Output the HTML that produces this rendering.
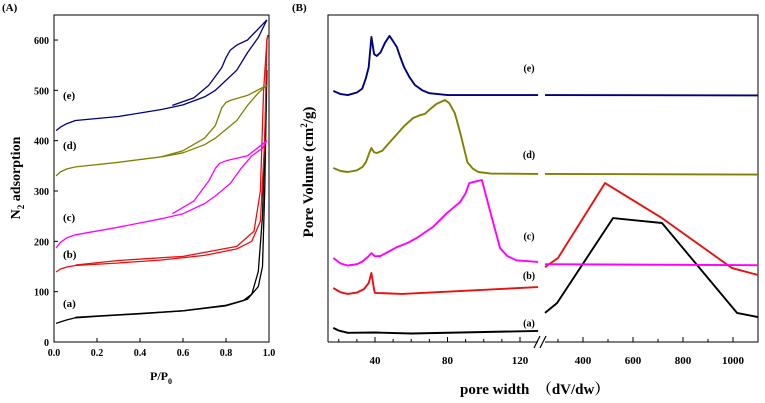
<!DOCTYPE html>
<html><head><meta charset="utf-8"><style>
body{margin:0;background:#fff;}
svg{display:block;font-family:"Liberation Serif",serif;font-weight:bold;}
</style></head><body>
<svg id="chart" width="765" height="403" viewBox="0 0 765 403" xmlns="http://www.w3.org/2000/svg">
<g id="gA"></g>
<g id="gB"></g>
</svg>
<script>
// ---------- Panel A data ----------
const aSeries = ['a','b','c','d','e'];
const aColors = ['#000000','#e81010','#ff00ff','#808000','#000080'];
const aAdsX = [
 [0.01,0.03,0.06,0.1,0.2,0.4,0.6,0.8,0.88,0.92,0.95,0.97,0.98,0.99],
 [0.01,0.03,0.06,0.1,0.3,0.5,0.7,0.85,0.92,0.96,0.98,0.99,0.995],
 [0.01,0.03,0.06,0.1,0.3,0.5,0.6,0.7,0.75,0.82,0.87,0.92,0.97,0.99],
 [0.01,0.03,0.06,0.1,0.3,0.5,0.6,0.7,0.75,0.85,0.9,0.95,0.99],
 [0.01,0.03,0.06,0.1,0.3,0.5,0.6,0.7,0.75,0.85,0.9,0.95,0.99]];
const aAdsY = [
 [37,40,44,48,51,56,62,72,82,95,140,250,400,540],
 [139,145,149,152,157,163,172,185,200,240,400,600,610],
 [187,198,207,213,228,245,255,275,290,315,345,370,385,400],
 [330,338,344,348,357,368,376,392,405,440,470,495,510],
 [420,427,434,440,448,462,471,487,500,540,575,605,640]];
const aDesX = [
 [0.99,0.985,0.98,0.97,0.95,0.9,0.8,0.6,0.3,0.1],
 [0.995,0.99,0.975,0.96,0.93,0.85,0.6,0.3,0.1],
 [0.99,0.9,0.8,0.77,0.75,0.72,0.65,0.55],
 [0.99,0.9,0.82,0.8,0.78,0.75,0.7,0.6,0.5],
 [0.99,0.9,0.85,0.82,0.8,0.78,0.72,0.65,0.55]];
const aDesY = [
 [540,420,300,150,110,85,73,62,54,49],
 [610,600,500,300,220,190,170,162,153],
 [400,370,360,355,345,320,280,255],
 [510,490,480,476,465,430,405,380,368],
 [640,600,590,580,565,545,510,485,470]];
const aYTicks = [0,100,200,300,400,500,600];
const aXTicks = [0.0,0.2,0.4,0.6,0.8,1.0];
const aLabelY = [77,175,248,391,491];

// ---------- Panel B data ----------
const bSeries = ['a','b','c','d','e'];
const bLeftX = [
 [17,20,25,40,60,130],
 [17,21,25,30,34,36.5,38,39.5,40,55,130],
 [17,21,25,30,33,36,38,40,43,47,52,58,63,72,79.6,87,90,92,97,99,104,109,113,118,130],
 [17,21,25,30,33,35,37,38,39.5,41,44,48,52,56,61,64,67.6,71,74,78.6,81,84,87,91,94,97,104,130],
 [17,21,25,30,33,35,36.5,38,39.5,41,43,45.5,48,50,52,54,56,59,62,66,70,80,130]];
const bLeftY = [
 [4.3,3.5,2.8,2.9,2.6,3.4],
 [16.5,15.2,14.7,15.1,16.2,18,21.1,16,15,14.7,16.8],
 [25.7,24,23.4,23.8,24.6,26,27.2,26.2,26.3,27.5,29,30.3,31.8,35.2,39.4,42.8,45.5,48.6,49.3,49.5,39,28.7,26.3,25,24.5],
 [53.2,52.3,52,52.5,53.5,55,58,59.3,58,57.8,58.5,61,63.5,66,68.5,69.2,69.8,71.5,72.8,74,73,70,64,55,53,52,51.5,51.4],
 [76.8,75.8,75.5,76.3,77.5,80.7,84,93.3,88,87.5,88.5,91.5,93.6,92,90.2,87,84.1,81,78.6,77,76.1,75.5,75.5]];
const bRightX = [
 [248,296,520,716,1016,1100],
 [248,300,488,716,996,1100],
 [248,1100],
 [248,1100],
 [248,1100]];
const bRightY = [
 [8.9,11.9,37.9,36.4,8.9,7.6],
 [22.9,25.7,48.6,37.9,22.6,20.5],
 [23.8,23.5],
 [51.4,51.2],
 [75.5,75.4]];
const bLeftTicks = [40,80,120];
const bRightTicks = [400,600,800,1000];
const bLabelV = [6,20.5,32.5,57.5,84];

const NS='http://www.w3.org/2000/svg';
function mk(parent,tag,attrs,text){const e=document.createElementNS(NS,tag);for(const k in attrs)e.setAttribute(k,attrs[k]);if(text!==undefined)e.textContent=text;parent.appendChild(e);return e;}

// ----- Panel A -----
const gA=document.getElementById('gA');
const ax=v=>54+v*215, ay=v=>342-v*0.5033;
mk(gA,'text',{x:2,y:11,'font-size':11},'(A)');
const frameA=mk(gA,'rect',{x:54,y:15,width:215,height:327,fill:'none',stroke:'#000','stroke-width':1});


aYTicks.forEach(t=>{
 const y=ay(t);
 const l=mk(gA,'line',{x1:54,x2:58,y1:y,y2:y,stroke:'#000'});
 
 const tx=mk(gA,'text',{x:49,y:y+4,'font-size':10,'text-anchor':'end'},String(t));
 
 
});
aXTicks.forEach(t=>{
 const x=ax(t);
 const l=mk(gA,'line',{x1:x,x2:x,y1:342,y2:338,stroke:'#000'});
 
 const tx=mk(gA,'text',{x:x,y:356,'font-size':10,'text-anchor':'middle'},t.toFixed(1));
 
 
});
const axt=mk(gA,'text',{x:161,y:380,'font-size':12,'text-anchor':'middle'});
axt.innerHTML='P/P<tspan font-size="8" dy="4">0</tspan>';


const ayt=mk(gA,'text',{x:20,y:178,'font-size':14,'text-anchor':'middle',transform:'rotate(-90 20 178)'});
ayt.innerHTML='N<tspan font-size="9" dy="4">2</tspan><tspan dy="-4"> adsorption</tspan>';


aSeries.forEach((s,i)=>{
 const pa=aAdsX[i].map((x,j)=>ax(x).toFixed(1)+','+ay(aAdsY[i][j]).toFixed(1)).join(' ');
 const p1=mk(gA,'polyline',{points:pa,fill:'none',stroke:aColors[i],'stroke-width':1.3,'stroke-linejoin':'round'});
 
 
 const pd=aDesX[i].map((x,j)=>ax(x).toFixed(1)+','+ay(aDesY[i][j]).toFixed(1)).join(' ');
 const p2=mk(gA,'polyline',{points:pd,fill:'none',stroke:aColors[i],'stroke-width':1.3,'stroke-linejoin':'round'});
 
 
 const lb=mk(gA,'text',{x:63,y:ay(aLabelY[i])+4,'font-size':11},'('+s+')');
 
 
});

// ----- Panel B -----
const gB=document.getElementById('gB');
const bxL=v=>375+(v-40)*1.8125, bxR=v=>583+(v-400)*0.25, by=v=>342-v*3.27;
mk(gB,'text',{x:292,y:11,'font-size':11},'(B)');
const fb=mk(gB,'path',{d:'M328,342 L328,15 L758,15 L758,342 L545,342 M538,342 L328,342',fill:'none',stroke:'#000','stroke-width':1});


const brk=mk(gB,'path',{d:'M534,348 L540,336 M540,348 L546,336',stroke:'#000','stroke-width':1.2,fill:'none'});


[20,30,50,60,70,90,100,110].forEach(t=>{const x=bxL(t);const l=mk(gB,'line',{x1:x,x2:x,y1:342,y2:339,stroke:'#000'});});
[300,500,700,900].forEach(t=>{const x=bxR(t);const l=mk(gB,'line',{x1:x,x2:x,y1:342,y2:339,stroke:'#000'});});
bLeftTicks.forEach(t=>{const x=bxL(t);
 const l=mk(gB,'line',{x1:x,x2:x,y1:342,y2:337,stroke:'#000'});
 const tx=mk(gB,'text',{x:x,y:364,'font-size':11,'text-anchor':'middle'},String(t));
 });
bRightTicks.forEach(t=>{const x=bxR(t);
 const l=mk(gB,'line',{x1:x,x2:x,y1:342,y2:337,stroke:'#000'});
 const tx=mk(gB,'text',{x:x,y:364,'font-size':11,'text-anchor':'middle'},String(t));
 });
const bxt=mk(gB,'text',{x:460,y:394,'font-size':15},'pore width\u00a0\u00a0（dV/dw）');
bxt.setAttribute('style','font-family:"Liberation Serif","Noto Serif CJK SC",serif');


const byt=mk(gB,'text',{x:313,y:172,'font-size':15,'text-anchor':'middle',transform:'rotate(-90 313 172)'});
byt.innerHTML='Pore Volume (cm<tspan font-size="9" dy="-6">2</tspan><tspan dy="6">/g)</tspan>';


bSeries.forEach((s,i)=>{
 const pl=bLeftX[i].map((x,j)=>bxL(x).toFixed(1)+','+by(bLeftY[i][j]).toFixed(1)).join(' ');
 const p1=mk(gB,'polyline',{points:pl,fill:'none',stroke:aColors[i],'stroke-width':1.9,'stroke-linejoin':'round'});
 
 
 const pr=bRightX[i].map((x,j)=>bxR(x).toFixed(1)+','+by(bRightY[i][j]).toFixed(1)).join(' ');
 const p2=mk(gB,'polyline',{points:pr,fill:'none',stroke:aColors[i],'stroke-width':1.9,'stroke-linejoin':'round'});
 
 
 const lb=mk(gB,'text',{x:529,y:by(bLabelV[i])+4,'font-size':10,'text-anchor':'middle'},'('+s+')');
 
 
});
</script>
</body></html>
